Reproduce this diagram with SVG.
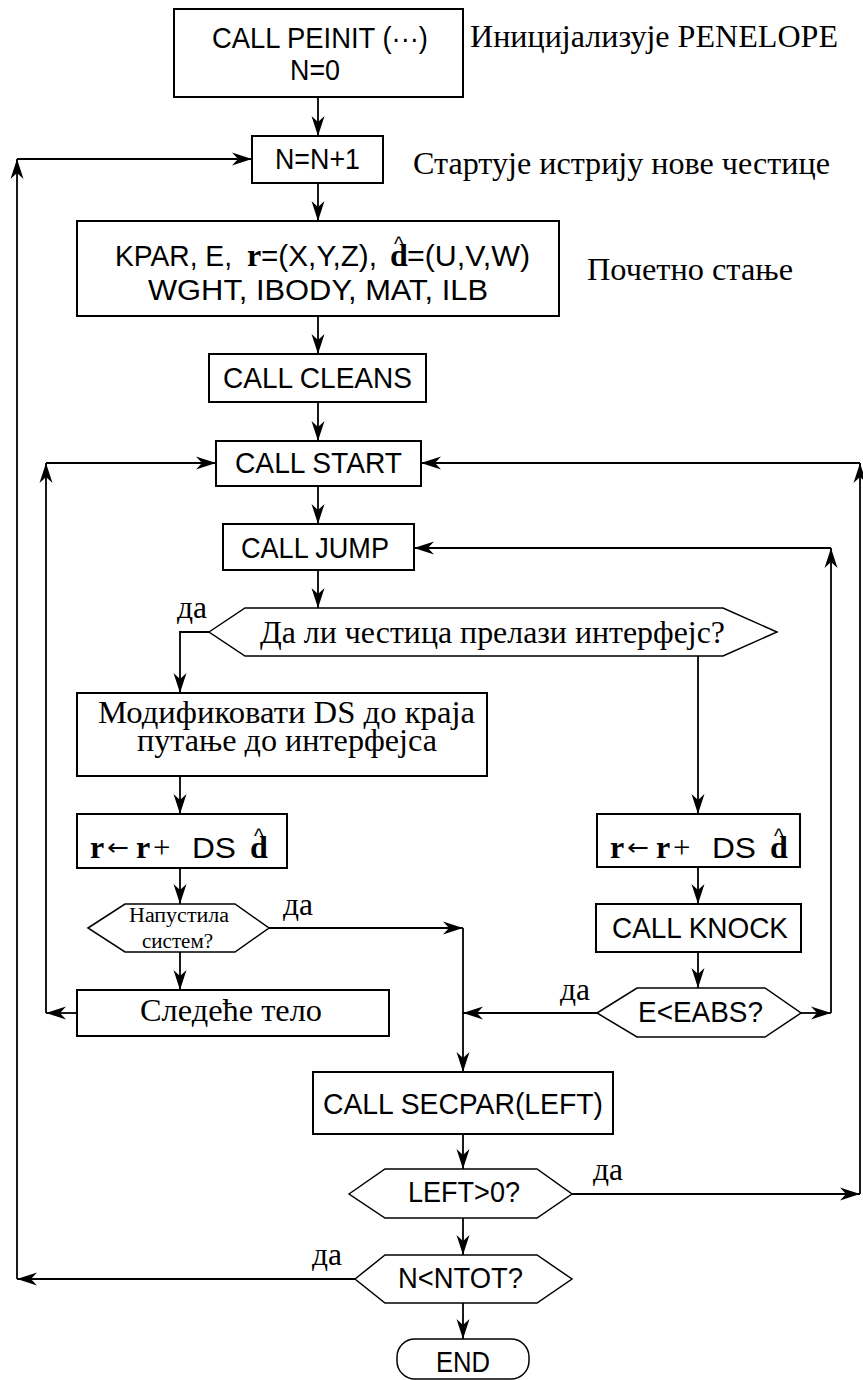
<svg xmlns="http://www.w3.org/2000/svg" width="863" height="1380" viewBox="0 0 863 1380">
<style>
.box{fill:#fff;stroke:#000;stroke-width:2}
.dec{fill:#fff;stroke:#000;stroke-width:1.5}
.ln{fill:none;stroke:#000;stroke-width:1.8}
.s{font-family:"Liberation Sans",Arial,sans-serif;font-size:29px;fill:#000}
.t{font-family:"Liberation Serif","Times New Roman",serif;font-size:31px;fill:#000}
.b{font-family:"Liberation Serif","Times New Roman",serif;font-size:32px;font-weight:bold}
.sm{font-family:"Liberation Serif","Times New Roman",serif;font-size:20px;fill:#000}
.hat{font-family:"Liberation Sans",Arial,sans-serif;font-size:20px;font-weight:normal}
.ar{font-family:"DejaVu Sans",sans-serif;font-size:23px}
.pl{font-family:"Liberation Serif","Times New Roman",serif;font-size:31px}
</style>
<defs>
<marker id="ah" viewBox="0 0 20 14" refX="20" refY="7" markerWidth="20" markerHeight="14" markerUnits="userSpaceOnUse" orient="auto">
<path d="M0,0.5 L20,7 L0,13.5 L6,7 Z" fill="#000"/>
</marker>
</defs>

<g id="connectors">
<path class="ln" marker-end="url(#ah)" d="M318,97 V136"/>
<path class="ln" marker-end="url(#ah)" d="M318,183 V221"/>
<path class="ln" marker-end="url(#ah)" d="M318,316 V354"/>
<path class="ln" marker-end="url(#ah)" d="M318,402 V441"/>
<path class="ln" marker-end="url(#ah)" d="M318,486 V524"/>
<path class="ln" marker-end="url(#ah)" d="M318,570 V608"/>
<path class="ln" marker-end="url(#ah)" d="M209,632 H180 V693"/>
<path class="ln" marker-end="url(#ah)" d="M698,656 V814"/>
<path class="ln" marker-end="url(#ah)" d="M180,776 V814"/>
<path class="ln" marker-end="url(#ah)" d="M180,868 V904"/>
<path class="ln" marker-end="url(#ah)" d="M180,952 V990"/>
<path class="ln" marker-end="url(#ah)" d="M698,867 V904"/>
<path class="ln" marker-end="url(#ah)" d="M698,952 V988"/>
<path class="ln" marker-end="url(#ah)" d="M269,928 H463"/>
<path class="ln" marker-end="url(#ah)" d="M463,928 V1072"/>
<path class="ln" marker-end="url(#ah)" d="M597,1013 H463"/>
<path class="ln" marker-end="url(#ah)" d="M801,1013 H831"/>
<path class="ln" marker-end="url(#ah)" d="M831,1013 V548"/>
<path class="ln" marker-end="url(#ah)" d="M831,548 H414"/>
<path class="ln" marker-end="url(#ah)" d="M77,1013 H46"/>
<path class="ln" marker-end="url(#ah)" d="M46,1013 V463"/>
<path class="ln" marker-end="url(#ah)" d="M46,463 H216"/>
<path class="ln" marker-end="url(#ah)" d="M463,1134 V1169"/>
<path class="ln" marker-end="url(#ah)" d="M463,1218 V1255"/>
<path class="ln" marker-end="url(#ah)" d="M572,1194 H860"/>
<path class="ln" marker-end="url(#ah)" d="M860,1194 V463"/>
<path class="ln" marker-end="url(#ah)" d="M860,463 H421"/>
<path class="ln" marker-end="url(#ah)" d="M463,1303 V1339"/>
<path class="ln" marker-end="url(#ah)" d="M355,1279 H17"/>
<path class="ln" marker-end="url(#ah)" d="M17,1279 V159"/>
<path class="ln" marker-end="url(#ah)" d="M17,159 H252"/>
</g>

<g id="n-peinit">
<rect class="box" x="174" y="9" width="289" height="88"/>
<text class="s" x="212" y="48" textLength="216" lengthAdjust="spacingAndGlyphs">CALL PEINIT (···)</text>
<text class="s" x="290" y="80" textLength="50" lengthAdjust="spacingAndGlyphs">N=0</text>
</g>
<text id="note-init" class="t" x="470" y="47" textLength="368" lengthAdjust="spacingAndGlyphs">Иницијализује PENELOPE</text>

<g id="n-inc">
<rect class="box" x="252" y="136" width="131" height="47"/>
<text class="s" x="275" y="169" textLength="85" lengthAdjust="spacingAndGlyphs">N=N+1</text>
</g>
<text id="note-start" class="t" x="413" y="174" textLength="417" lengthAdjust="spacingAndGlyphs">Стартује истрију нове честице</text>

<g id="n-state">
<rect class="box" x="77" y="221" width="482" height="95"/>
<text class="s" y="266"><tspan x="115" textLength="117" lengthAdjust="spacingAndGlyphs">KPAR, E,</tspan><tspan class="b" x="247">r</tspan><tspan x="261" textLength="116" lengthAdjust="spacingAndGlyphs">=(X,Y,Z),</tspan><tspan class="b" x="390">d</tspan><tspan class="hat" x="394" y="251">^</tspan><tspan x="407" y="266" textLength="123" lengthAdjust="spacingAndGlyphs">=(U,V,W)</tspan></text>
<text class="s" x="148" y="300" textLength="340" lengthAdjust="spacingAndGlyphs">WGHT, IBODY, MAT, ILB</text>
</g>
<text id="note-state" class="t" x="587" y="280" textLength="206" lengthAdjust="spacingAndGlyphs">Почетно стање</text>

<g id="n-cleans">
<rect class="box" x="209" y="354" width="217" height="48"/>
<text class="s" x="223" y="388" textLength="189" lengthAdjust="spacingAndGlyphs">CALL CLEANS</text>
</g>

<g id="n-start">
<rect class="box" x="216" y="441" width="205" height="45"/>
<text class="s" x="235" y="473" textLength="167" lengthAdjust="spacingAndGlyphs">CALL START</text>
</g>

<g id="n-jump">
<rect class="box" x="223" y="524" width="191" height="46"/>
<text class="s" x="241" y="558" textLength="148" lengthAdjust="spacingAndGlyphs">CALL JUMP</text>
</g>

<g id="d-interface">
<polygon class="dec" points="209,632 245,608 723,608 777,632 723,656 245,656"/>
<text class="t" x="260" y="643" textLength="465" lengthAdjust="spacingAndGlyphs">Да ли честица прелази интерфејс?</text>
</g>
<text id="yes1" class="t" x="177" y="618" textLength="30" lengthAdjust="spacingAndGlyphs">да</text>

<g id="n-modify">
<rect class="box" x="77" y="693" width="410" height="83"/>
<text class="t" x="98" y="723" textLength="377" lengthAdjust="spacingAndGlyphs">Модификовати DS до краја</text>
<text class="t" x="137" y="751" textLength="300" lengthAdjust="spacingAndGlyphs">путање до интерфејса</text>
</g>

<g id="n-move-left">
<rect class="box" x="77" y="814" width="210" height="54"/>
<text class="s" y="858"><tspan class="b" x="90">r</tspan><tspan class="ar" x="107" y="855" textLength="22" lengthAdjust="spacingAndGlyphs">←</tspan><tspan class="b" x="136" y="858">r</tspan><tspan class="pl" x="153">+</tspan><tspan x="192" textLength="44" lengthAdjust="spacingAndGlyphs">DS</tspan><tspan class="b" x="250">d</tspan><tspan class="hat" x="254" y="843">^</tspan></text>
</g>

<g id="n-move-right">
<rect class="box" x="597" y="814" width="203" height="53"/>
<text class="s" y="858"><tspan class="b" x="610">r</tspan><tspan class="ar" x="627" y="855" textLength="22" lengthAdjust="spacingAndGlyphs">←</tspan><tspan class="b" x="656" y="858">r</tspan><tspan class="pl" x="673">+</tspan><tspan x="712" textLength="44" lengthAdjust="spacingAndGlyphs">DS</tspan><tspan class="b" x="770">d</tspan><tspan class="hat" x="774" y="843">^</tspan></text>
</g>

<g id="d-left">
<polygon class="dec" points="88,928 125,904 235,904 269,928 235,952 125,952"/>
<text class="sm" x="129" y="922" textLength="100" lengthAdjust="spacingAndGlyphs">Напустила</text>
<text class="sm" x="142" y="948" textLength="71" lengthAdjust="spacingAndGlyphs">систем?</text>
</g>
<text id="yes2" class="t" x="283" y="915" textLength="30" lengthAdjust="spacingAndGlyphs">да</text>

<g id="n-next">
<rect class="box" x="77" y="990" width="312" height="46"/>
<text class="t" x="140" y="1021" textLength="182" lengthAdjust="spacingAndGlyphs">Следеће тело</text>
</g>

<g id="n-knock">
<rect class="box" x="596" y="904" width="205" height="48"/>
<text class="s" x="612" y="938" textLength="176" lengthAdjust="spacingAndGlyphs">CALL KNOCK</text>
</g>

<g id="d-eabs">
<polygon class="dec" points="597,1013 637,988 765,988 801,1013 765,1037 637,1037"/>
<text class="s" x="638" y="1022" textLength="125" lengthAdjust="spacingAndGlyphs">E&lt;EABS?</text>
</g>
<text id="yes3" class="t" x="560" y="1000" textLength="30" lengthAdjust="spacingAndGlyphs">да</text>

<g id="n-secpar">
<rect class="box" x="313" y="1072" width="300" height="62"/>
<text class="s" x="323" y="1114" textLength="280" lengthAdjust="spacingAndGlyphs">CALL SECPAR(LEFT)</text>
</g>

<g id="d-left0">
<polygon class="dec" points="349,1194 385,1169 537,1169 572,1194 537,1218 385,1218"/>
<text class="s" x="408" y="1202" textLength="112" lengthAdjust="spacingAndGlyphs">LEFT&gt;0?</text>
</g>
<text id="yes4" class="t" x="593" y="1180" textLength="30" lengthAdjust="spacingAndGlyphs">да</text>

<g id="d-ntot">
<polygon class="dec" points="355,1279 385,1255 537,1255 572,1279 537,1303 385,1303"/>
<text class="s" x="398" y="1288" textLength="125" lengthAdjust="spacingAndGlyphs">N&lt;NTOT?</text>
</g>
<text id="yes5" class="t" x="312" y="1265" textLength="30" lengthAdjust="spacingAndGlyphs">да</text>

<g id="n-end">
<rect class="dec" x="397" y="1339" width="132" height="40" rx="18" ry="18"/>
<text class="s" x="436" y="1372" textLength="54" lengthAdjust="spacingAndGlyphs">END</text>
</g>
</svg>
